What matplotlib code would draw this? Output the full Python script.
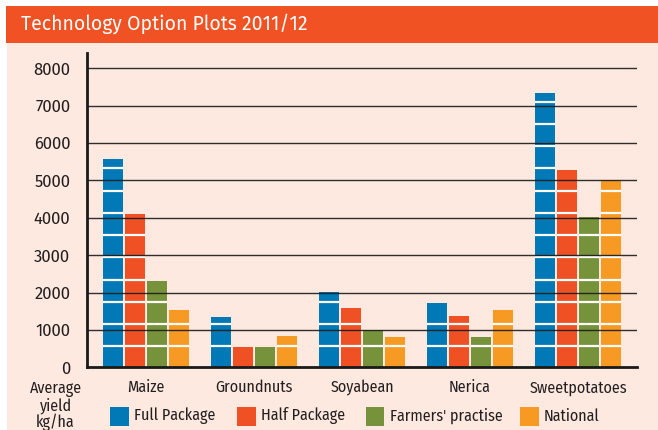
import numpy as np
import matplotlib
matplotlib.use("Agg")
from matplotlib import pyplot
from matplotlib.patches import Rectangle

# data (kg/ha)
CROPS = ["Maize", "Groundnuts", "Soyabean", "Nerica", "Sweetpotatoes"]
SERIES = ["Full Package", "Half Package", "Farmers' practise", "National"]
FULL_PACKAGE = [5580, 1350, 2010, 1720, 7350]
HALF_PACKAGE = [4100, 530, 1590, 1380, 5290]
FARMERS_PRACTISE = [2320, 530, 990, 820, 4010]
NATIONAL = [1540, 850, 820, 1530, 5000]
Y_TICKS = [0, 1000, 2000, 3000, 4000, 5000, 6000, 7000, 8000]

COLORS = ["#0079B6", "#EF5124", "#76933B", "#F79A24"]
BACKGROUND = "#FDE9DF"
TITLE_BAR = "#F05224"
TEXT = "#231F20"
FONT = ["Fira Sans Condensed", "DejaVu Sans"]
FONT_WIDE = ["Fira Sans", "DejaVu Sans"]
FS = 11.5

W, H = 658, 430
BRICK = 595.0      # height of one "brick" segment in data units
BRICK_START = 562.0


def fx(px):
    return px / W


def fy(py):
    return (H - py) / H


pyplot.rcParams["font.family"] = FONT
figure = pyplot.figure(figsize=(W / 100, H / 100), dpi=100)
figure.patch.set_facecolor("white")

# background panel and title bar
figure.add_artist(Rectangle((fx(7), 0), 1 - fx(7), fy(43), transform=figure.transFigure,
                            facecolor=BACKGROUND, edgecolor="none", zorder=0))
figure.add_artist(Rectangle((fx(6), fy(43)), 1 - fx(6), fy(6) - fy(43), transform=figure.transFigure,
                            facecolor=TITLE_BAR, edgecolor="none", zorder=0))
figure.text(fx(21), fy(29.5), "Technology Option Plots 2011/12", color="white",
            fontsize=14, va="baseline", ha="left", family=FONT_WIDE)

axis = figure.add_axes([fx(87), fy(367.3), fx(637) - fx(87), fy(53) - fy(367.3)])
axis.set_facecolor("none")

values = [FULL_PACKAGE, HALF_PACKAGE, FARMERS_PRACTISE, NATIONAL]
x = np.arange(len(CROPS))
pitch = 22 / 108
bar_width = 20 / 108
for j, (series, color) in enumerate(zip(values, COLORS)):
    xs = x + (j - 1.5) * pitch
    axis.bar(xs, series, width=bar_width, color=color, edgecolor="none", zorder=2)
    # white gaps that split each bar into bricks
    for xc, v in zip(xs, series):
        gaps = np.arange(BRICK_START, v, BRICK)
        axis.hlines(gaps, xc - bar_width / 2, xc + bar_width / 2, colors="white",
                    linewidth=1.6, zorder=2.5)

for t in Y_TICKS[1:]:
    axis.axhline(t, color="#1a1a1a", linewidth=1.0, alpha=0.9, zorder=3)

axis.set_xlim(-0.546, 4.546)
axis.set_ylim(0, 8410)
axis.set_yticks(Y_TICKS, [str(t) for t in Y_TICKS], fontsize=12, color=TEXT)
for label in axis.get_yticklabels():
    label.set_family(FONT_WIDE)
axis.set_xticks(x, CROPS, fontsize=FS, color=TEXT)
axis.tick_params(axis="both", length=0)
axis.tick_params(axis="y", pad=12)
axis.tick_params(axis="x", pad=9)
for side in ["top", "right"]:
    axis.spines[side].set_visible(False)
for side in ["left", "bottom"]:
    axis.spines[side].set_linewidth(2)
    axis.spines[side].set_color("#1a1a1a")
    axis.spines[side].set_zorder(4)

figure.text(fx(55.5), fy(406), "Average\nyield\nkg/ha", ha="center", va="center",
            fontsize=FS, color=TEXT, linespacing=1.02)

# legend row
legend_x = [110, 237, 365.5, 520]
for lx, name, color in zip(legend_x, SERIES, COLORS):
    figure.add_artist(Rectangle((fx(lx), fy(426)), fx(18.5), fy(407) - fy(426),
                                transform=figure.transFigure, facecolor=color, edgecolor="none"))
    figure.text(fx(lx + 24), fy(416), name, ha="left", va="center", fontsize=FS, color=TEXT)

figure.savefig("out.png", dpi=100, facecolor=figure.get_facecolor())
